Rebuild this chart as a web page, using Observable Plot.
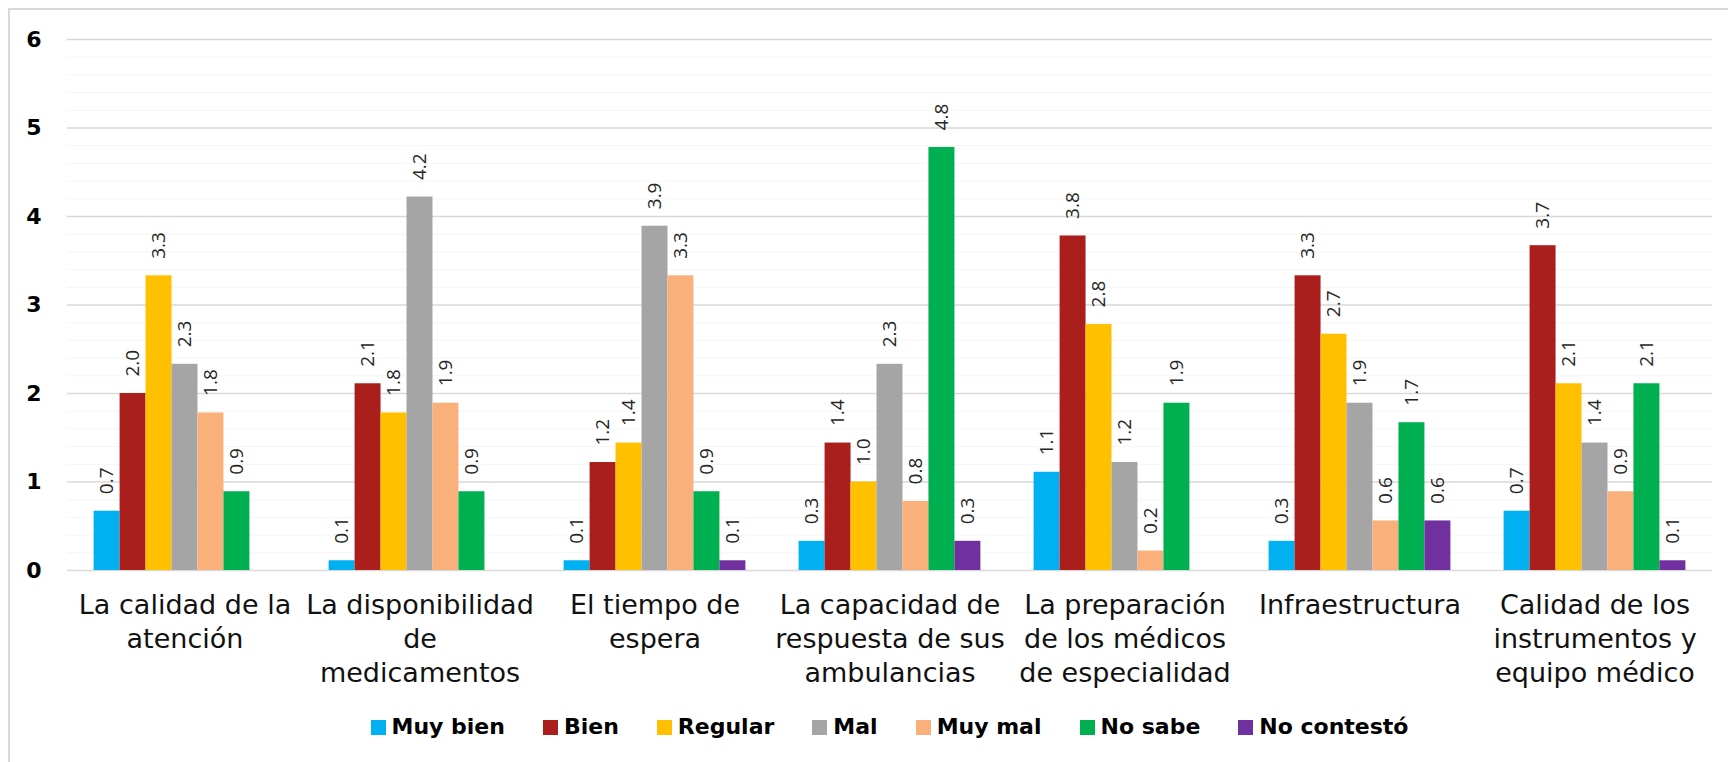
<!DOCTYPE html>
<html>
<head>
<meta charset="utf-8">
<script src="https://cdn.jsdelivr.net/npm/d3@7"></script>
<script src="https://cdn.jsdelivr.net/npm/@observablehq/plot@0.6"></script>
<style>
html, body { margin: 0; padding: 0; background: #fff; overflow: hidden; width: 1728px; height: 762px; }
#frame { position: absolute; left: 8px; top: 8px; width: 1760px; height: 800px; border: 2px solid #d9d9d9; box-sizing: border-box; }
#chart { position: absolute; left: 0; top: 0; }
#legend { position: absolute; left: 66px; width: 1647px; top: 713px; display: flex; justify-content: center; gap: 38px;
  font-family: "DejaVu Sans", sans-serif; font-weight: 700; font-size: 22px; color: #000; line-height: 28px; }
.item { display: flex; align-items: center; gap: 6px; }
.sw { width: 15px; height: 15px; flex: none; }
</style>
</head>
<body>
<div id="frame"></div>
<div id="chart"></div>
<div id="legend"></div>
<script>
// Categories (with the reference's line breaks)
const categories = [
  "La calidad de la\natención",
  "La disponibilidad\nde\nmedicamentos",
  "El tiempo de\nespera",
  "La capacidad de\nrespuesta de sus\nambulancias",
  "La preparación\nde los médicos\nde especialidad",
  "Infraestructura",
  "Calidad de los\ninstrumentos y\nequipo médico"
];
const series = ["Muy bien", "Bien", "Regular", "Mal", "Muy mal", "No sabe", "No contestó"];
const colors = ["#00B0F0", "#AA1E1C", "#FFC000", "#A5A5A5", "#F9B07A", "#00B050", "#7030A0"];

// Values per series, one per category
const muyBien    = [0.67, 0.11, 0.11, 0.33, 1.11, 0.33, 0.67];
const bien       = [2.00, 2.11, 1.22, 1.44, 3.78, 3.33, 3.67];
const regular    = [3.33, 1.78, 1.44, 1.00, 2.78, 2.67, 2.11];
const mal        = [2.33, 4.22, 3.89, 2.33, 1.22, 1.89, 1.44];
const muyMal     = [1.78, 1.89, 3.33, 0.78, 0.22, 0.56, 0.89];
const noSabe     = [0.89, 0.89, 0.89, 4.78, 1.89, 1.67, 2.11];
const noContesto = [0.00, 0.00, 0.11, 0.33, 0.00, 0.56, 0.11];

const yTicks = [0, 1, 2, 3, 4, 5, 6];

const seriesValues = [muyBien, bien, regular, mal, muyMal, noSabe, noContesto];
const rows = [];
seriesValues.forEach((vals, s) => vals.forEach((v, c) => rows.push({category: categories[c], series: series[s], value: v})));
const shown = rows.filter(d => d.value > 0);
const fmt = d3.format(".1f");

const chart = Plot.plot({
  width: 1728,
  height: 700,
  marginTop: 39,
  marginBottom: 130,
  marginLeft: 66,
  marginRight: 15,
  style: {fontFamily: "'Open Sans', sans-serif", background: "transparent", overflow: "visible"},
  fx: {domain: categories, padding: 0, label: null},
  x: {domain: series, paddingInner: 0, paddingOuter: 1.025, round: false, axis: null},
  y: {domain: [0, 6], label: null},
  color: {domain: series, range: colors},
  marks: [
    Plot.gridY(d3.ticks(0, 6, 30).filter(t => !Number.isInteger(t)), {stroke: "#f5f5f5", strokeOpacity: 1, strokeWidth: 1}),
    Plot.gridY(yTicks, {stroke: "#d9d9d9", strokeOpacity: 1, strokeWidth: 1.6}),
    Plot.axisY(yTicks, {tickSize: 0, tickPadding: 26, tickFormat: d3.format("d"), fontSize: 22, fontWeight: "bold", fontFamily: "DejaVu Sans", fill: "#000", label: null}),
    Plot.axisFx({anchor: "bottom", tickSize: 0, tickPadding: 19, fontSize: 27, lineHeight: 1.27, fontFamily: "DejaVu Sans", fill: "#111", label: null}),
    Plot.barY(shown, {fx: "category", x: "series", y: "value", fill: "series"}),
    Plot.text(shown, {fx: "category", x: "series", y: "value", text: d => fmt(d.value), rotate: -90, textAnchor: "start", dy: -17, fontSize: 19, fill: "#262626"})
  ]
});
document.getElementById("chart").appendChild(chart);

const legend = document.getElementById("legend");
series.forEach((s, i) => {
  const item = document.createElement("div");
  item.className = "item";
  const sw = document.createElement("span");
  sw.className = "sw";
  sw.style.background = colors[i];
  const t = document.createElement("span");
  t.textContent = s;
  item.appendChild(sw);
  item.appendChild(t);
  legend.appendChild(item);
});
</script>
</body>
</html>
